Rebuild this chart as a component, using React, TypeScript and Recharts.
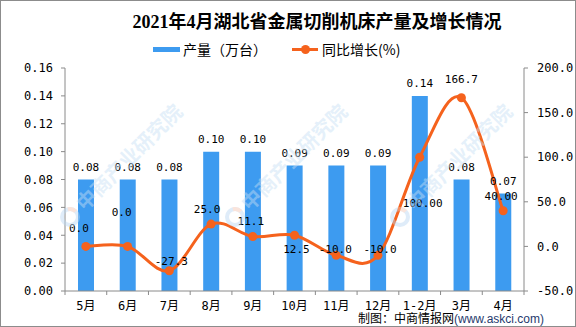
import React from 'react';
import { ComposedChart, Bar, Line, XAxis, YAxis, LabelList } from 'recharts';

const months = ['5月', '6月', '7月', '8月', '9月', '10月', '11月', '12月', '1-2月', '3月', '4月'];
const output = [0.08, 0.08, 0.08, 0.1, 0.1, 0.09, 0.09, 0.09, 0.14, 0.08, 0.07];
const growth = [0.0, 0.0, -27.3, 25.0, 11.1, 12.5, -10.0, -10.0, 100.0, 166.7, 40.0];
const growthLabels = ['0.0', '0.0', '-27.3', '25.0', '11.1', '12.5', '-10.0', '-10.0', '100.00', '166.7', '40.00'];
const leftTicks = [0, 0.02, 0.04, 0.06, 0.08, 0.1, 0.12, 0.14, 0.16];
const rightTicks = [-50, 0, 50, 100, 150, 200];

// label placement (dx, dy) relative to each growth point
const growthLabelOffsets: [number, number][] = [
  [-7, -18], [-6, -34], [2, -9], [-4, -15], [-2, -15], [2, 14],
  [-1, -6], [2, -6], [3, 46], [0, -18], [-2, -14],
];

const data = months.map((m, i) => ({ month: m, output: output[i], growth: growth[i] }));

const BLUE = '#3d9bf0';
const ORANGE = '#f5621d';
const AXIS = '#8a8a8a';
const NUM_FONT = '"DejaVu Sans Mono", "Liberation Mono", monospace';
const CJK_FONT = '"DejaVu Sans Mono", "Noto Sans CJK SC", sans-serif';

// Excel-like smooth curve (Catmull-Rom style Bezier)
const smoothCurve: any = (context: any) => {
  let pts: [number, number][] = [];
  return {
    areaStart() {},
    areaEnd() {},
    lineStart() {
      pts = [];
    },
    lineEnd() {
      const n = pts.length;
      if (!n) return;
      context.moveTo(pts[0][0], pts[0][1]);
      for (let i = 0; i < n - 1; i++) {
        const p0 = pts[i - 1] || pts[i];
        const p1 = pts[i];
        const p2 = pts[i + 1];
        const p3 = pts[i + 2] || p2;
        context.bezierCurveTo(
          p1[0] + (p2[0] - p0[0]) / 6,
          p1[1] + (p2[1] - p0[1]) / 6,
          p2[0] - (p3[0] - p1[0]) / 6,
          p2[1] - (p3[1] - p1[1]) / 6,
          p2[0],
          p2[1]
        );
      }
    },
    point(x: number, y: number) {
      pts.push([+x, +y]);
    },
  };
};

const renderDot = (p: any) => {
  const { cx, cy, index } = p;
  if (cx == null || cy == null) return <g key={`d${index}`} />;
  const [dx, dy] = growthLabelOffsets[index] || [0, -14];
  return (
    <g key={`d${index}`}>
      <circle cx={cx} cy={cy} r={4.5} fill={ORANGE} />
      <text
        x={cx + dx}
        y={cy + dy}
        textAnchor="middle"
        dominantBaseline="central"
        fontFamily={NUM_FONT}
        fontSize={11}
        fill="#000"
      >
        {growthLabels[index]}
      </text>
    </g>
  );
};

const renderBarLabel = (p: any) => {
  const { x, y, width, value } = p;
  return (
    <text
      x={Number(x) + Number(width) / 2}
      y={Number(y) - 12}
      textAnchor="middle"
      dominantBaseline="central"
      fontFamily={NUM_FONT}
      fontSize={11}
      fill="#000"
    >
      {Number(value).toFixed(2)}
    </text>
  );
};

const XTick = (p: any) => {
  const { x, y, payload } = p;
  const off = payload && payload.offset ? payload.offset : 20.86;
  const idx = payload ? payload.index : 0;
  return (
    <g>
      <line x1={x - off} x2={x - off} y1={y - 4} y2={y} stroke={AXIS} />
      {idx === months.length - 1 && <line x1={x + off} x2={x + off} y1={y - 4} y2={y} stroke={AXIS} />}
      <text x={x} y={y + 11} textAnchor="middle" dominantBaseline="central" fontFamily={CJK_FONT} fontSize={12} fill="#000">
        {payload.value}
      </text>
    </g>
  );
};

const wmOrigins: [number, number][] = [
  [70, 217],
  [235, 217],
  [400, 217],
];

const Watermarks = () => (
  <svg width={576} height={327} style={{ position: 'absolute', left: 0, top: 0, pointerEvents: 'none' }}>
    {wmOrigins.map(([lx, ly], i) => (
      <g key={i} transform={`translate(${lx},${ly}) rotate(-45)`} opacity={0.45}>
        <circle cx={0} cy={0} r={8} fill="none" stroke="#b9d7f2" strokeWidth={4} />
        <path d="M 4 -7 A 8 8 0 0 1 8 0" fill="none" stroke="#f6c4b0" strokeWidth={4} />
        <text x={14} y={7} fontFamily='"Noto Sans CJK SC", sans-serif' fontSize={20} fontWeight={700} fill="#c6dff4">
          中商产业研究院
        </text>
      </g>
    ))}
  </svg>
);

export default function App() {
  return (
    <div style={{ position: 'absolute', left: 0, top: 0, width: 576, height: 327, background: '#fff', overflow: 'hidden' }}>
      <div
        style={{
          position: 'absolute',
          left: 0,
          top: 11,
          width: 634,
          textAlign: 'center',
          fontFamily: '"Liberation Serif", "Noto Sans CJK SC", serif',
          fontWeight: 700,
          fontSize: 18,
          lineHeight: '22px',
          color: '#000',
          whiteSpace: 'nowrap',
        }}
      >
        2021年4月湖北省金属切削机床产量及增长情况
      </div>
      <div style={{ position: 'absolute', left: 153, top: 47, width: 27, height: 5, background: BLUE }} />
      <div
        style={{
          position: 'absolute',
          left: 183,
          top: 40,
          fontFamily: '"Noto Sans CJK SC", sans-serif',
          fontSize: 14,
          lineHeight: '18px',
          color: '#000',
          whiteSpace: 'nowrap',
        }}
      >
        产量（万台）
      </div>
      <div style={{ position: 'absolute', left: 292, top: 48, width: 26, height: 3, background: ORANGE }} />
      <div style={{ position: 'absolute', left: 300.5, top: 45, width: 9, height: 9, borderRadius: 5, background: ORANGE }} />
      <div
        style={{
          position: 'absolute',
          left: 322,
          top: 40,
          fontFamily: '"Noto Sans CJK SC", sans-serif',
          fontSize: 14,
          lineHeight: '18px',
          color: '#000',
          whiteSpace: 'nowrap',
        }}
      >
        同比增长(%)
      </div>
      <div style={{ position: 'absolute', left: 0, top: 0 }}>
        <ComposedChart width={576} height={327} data={data} margin={{ top: 68, right: 0, bottom: 0, left: 0 }}>
          <XAxis
            dataKey="month"
            xAxisId={0}
            height={36}
            axisLine={{ stroke: AXIS }}
            tickLine={false}
            tickSize={4}
            tickMargin={0}
            interval={0}
            tick={<XTick />}
          />
          <YAxis
            yAxisId="left"
            orientation="left"
            width={65}
            domain={[0, 0.16]}
            ticks={leftTicks}
            interval={0}
            tickFormatter={(v: number) => v.toFixed(2)}
            axisLine={{ stroke: AXIS }}
            tickLine={{ stroke: AXIS }}
            tickSize={4}
            tickMargin={8}
            tick={{ fontFamily: NUM_FONT, fontSize: 12, fill: '#000' }}
          />
          <YAxis
            yAxisId="right"
            orientation="right"
            width={52}
            domain={[-50, 200]}
            ticks={rightTicks}
            interval={0}
            tickFormatter={(v: number) => v.toFixed(1)}
            axisLine={{ stroke: AXIS }}
            tickLine={{ stroke: AXIS }}
            tickSize={4}
            tickMargin={9}
            tick={{ fontFamily: NUM_FONT, fontSize: 12, fill: '#000' }}
          />
          <Bar yAxisId="left" dataKey="output" fill={BLUE} barSize={16} isAnimationActive={false}>
            <LabelList dataKey="output" content={renderBarLabel} />
          </Bar>
          <Line
            yAxisId="right"
            dataKey="growth"
            type={smoothCurve}
            stroke={ORANGE}
            strokeWidth={3}
            dot={renderDot}
            activeDot={false}
            isAnimationActive={false}
          />
        </ComposedChart>
      </div>
      <div
        style={{
          position: 'absolute',
          left: 358,
          top: 311,
          fontSize: 12,
          lineHeight: '14px',
          whiteSpace: 'nowrap',
          fontFamily: '"Noto Sans CJK SC", sans-serif',
          color: '#000',
        }}
      >
        制图：中商情报网<span style={{ fontFamily: '"Liberation Sans", sans-serif', color: '#1f3a6e' }}>(www.askci.com)</span>
      </div>
      <Watermarks />
      <div
        style={{
          position: 'absolute',
          left: 0,
          top: 0,
          width: 576,
          height: 327,
          boxSizing: 'border-box',
          border: '1px solid #8c8c8c',
          pointerEvents: 'none',
        }}
      />
    </div>
  );
}
